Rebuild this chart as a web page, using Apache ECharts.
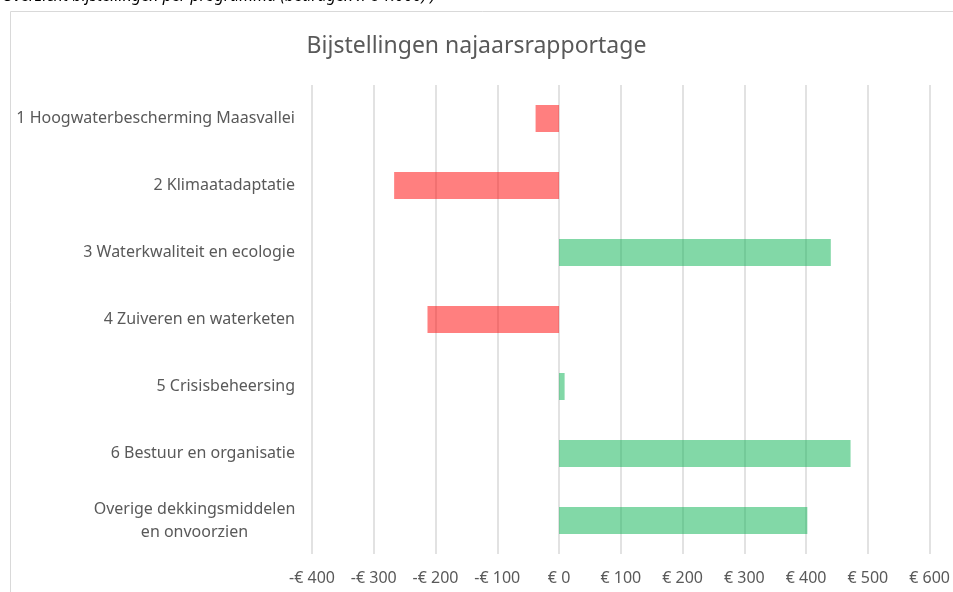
<!DOCTYPE html>
<html>
<head>
<meta charset="utf-8">
<script src="https://cdn.jsdelivr.net/npm/echarts@6/dist/echarts.min.js"></script>
<style>
    html, body { margin: 0; padding: 0; background: #fff; }
    #main { width: 953px; height: 592px; }
</style>
</head>
<body>
<div id="main"></div>
<script>
// programma's (van boven naar beneden)
const programmas = [
    '1 Hoogwaterbescherming Maasvallei',
    '2 Klimaatadaptatie',
    '3 Waterkwaliteit en ecologie',
    '4 Zuiveren en waterketen',
    '5 Crisisbeheersing',
    '6 Bestuur en organisatie',
    'Overige dekkingsmiddelen\nen onvoorzien',
]
// bijstellingen x € 1.000
const bijstellingen = [-38, -267, 440, -213, 9, 472, 402]
const xTicks = [-400, -300, -200, -100, 0, 100, 200, 300, 400, 500, 600]

const font = 'Noto Sans'
const chart = echarts.init(document.getElementById('main'))

chart.setOption({
    animation: false,
    textStyle: { fontFamily: font },
    title: {
        text: 'Bijstellingen najaarsrapportage',
        left: 'center',
        top: 30,
        textStyle: { fontFamily: font, fontSize: 23, fontWeight: 'normal', color: '#595959' },
    },
    graphic: [
        {
            type: 'rect',
            shape: { x: 10.5, y: 11.5, width: 960, height: 600 },
            style: { fill: null, stroke: '#d9d9d9', lineWidth: 1 },
            silent: true,
        },
        {
            type: 'text',
            left: 2,
            top: -12,
            style: {
                text: 'Overzicht bijstellingen per programma (bedragen x € 1.000) )',
                font: 'italic 16px "Noto Sans"',
                fill: '#000',
            },
        },
    ],
    grid: { left: 312, right: 21, top: 85, bottom: 38 },
    xAxis: {
        type: 'value',
        min: xTicks[0],
        max: xTicks[xTicks.length - 1],
        interval: 100,
        axisLine: { show: false },
        axisTick: { show: false },
        splitLine: { lineStyle: { color: '#d9d9d9', width: 1.5 } },
        axisLabel: {
            margin: 16,
            fontSize: 16,
            color: '#595959',
            formatter: (v) => (v < 0 ? '-€ ' + Math.abs(v) : '€ ' + v),
        },
    },
    yAxis: {
        type: 'category',
        inverse: true,
        data: programmas,
        axisLine: { show: false },
        axisTick: { show: false },
        axisLabel: {
            margin: 17,
            fontSize: 16,
            color: '#595959',
            lineHeight: 23,
            formatter: (v) => (v.includes('\n') ? v.split('\n').map((s) => '{c|' + s + '}').join('\n') : v),
            rich: {
                c: { width: 201, align: 'center', fontSize: 16, color: '#595959', lineHeight: 23 },
            },
        },
    },
    series: [
        {
            type: 'bar',
            barWidth: 27,
            data: bijstellingen.map((v) => ({
                value: v,
                itemStyle: { color: v < 0 ? 'rgba(255,0,0,0.5)' : 'rgba(5,177,79,0.5)' },
            })),
        },
    ],
})
</script>
</body>
</html>
